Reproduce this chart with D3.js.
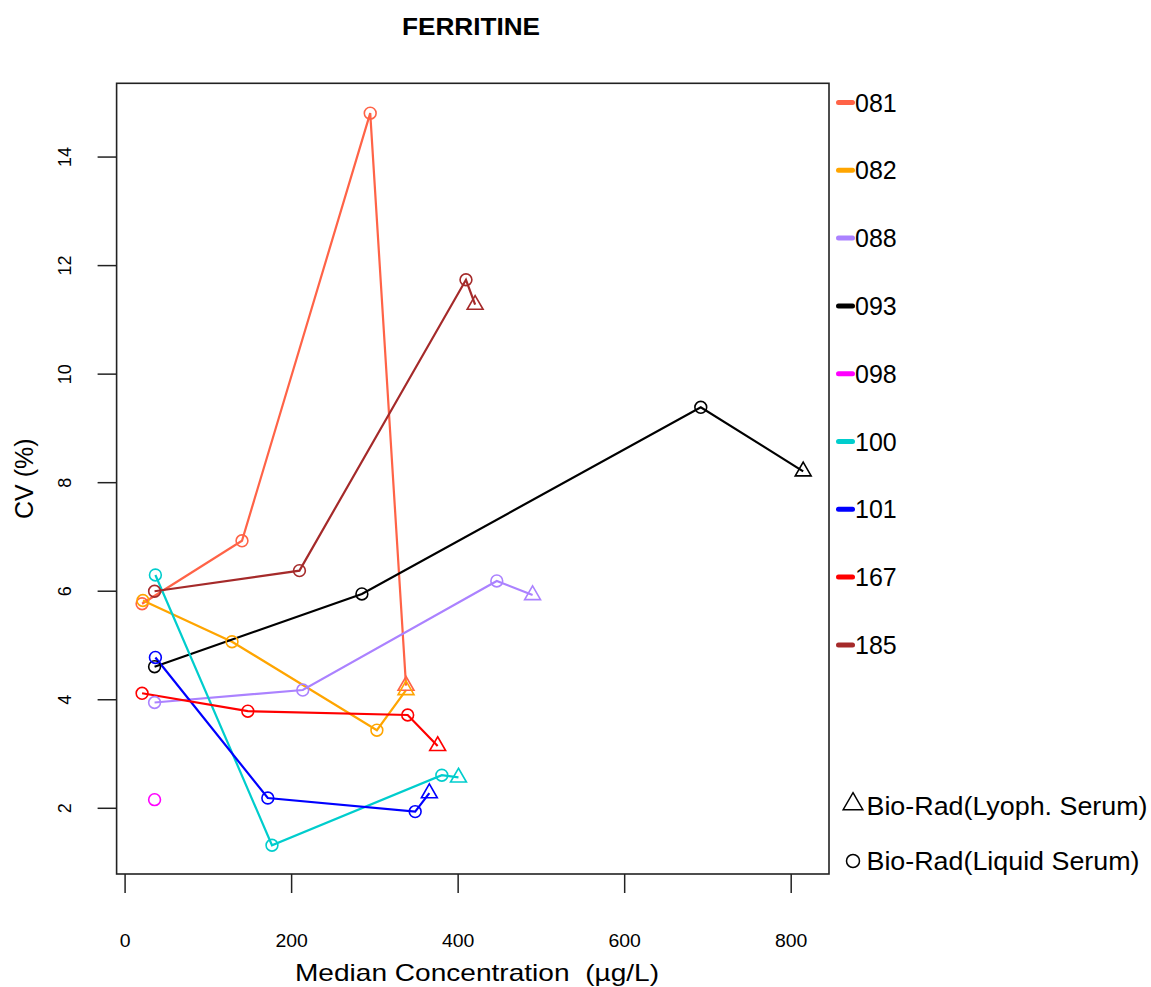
<!DOCTYPE html>
<html>
<head>
<meta charset="utf-8">
<script src="https://cdn.jsdelivr.net/npm/d3@7"></script>
<style>
  html, body { margin: 0; padding: 0; background: #fff; }
  svg text { font-family: "Liberation Sans", Arial, Helvetica, sans-serif; fill: #000; white-space: pre; }
</style>
</head>
<body>
<svg id="chart" width="1151" height="987"></svg>
<script>
// ---------------- data ----------------
const chartTitle = "FERRITINE";
const xTitle = "Median Concentration  (\u00b5g/L)";
const yTitle = "CV (%)";

const labs   = ["081", "082", "088", "093", "098", "100", "101", "167", "185"];
const colors = ["#FF6347", "#FFA500", "#AB82FF", "#000000", "#FF00FF", "#00CDCD", "#0000FF", "#FF0000", "#A52A2A"];

// median concentration (µg/L) per lab, in sample order
const conc081 = [21, 141, 295, 338];
const conc082 = [22, 129, 303, 338];
const conc088 = [36, 214, 447, 490];
const conc093 = [36, 285, 692, 815];
const conc098 = [36];
const conc100 = [37, 177, 381, 401];
const conc101 = [37, 172, 349, 366];
const conc167 = [21, 148, 340, 376];
const conc185 = [36, 210, 410, 421];

// CV (%) per lab
const cv081 = [5.76, 6.92, 14.80, 4.25];
const cv082 = [5.82, 5.06, 3.43, 4.17];
const cv088 = [3.94, 4.17, 6.18, 5.92];
const cv093 = [4.60, 5.94, 9.38, 8.20];
const cv098 = [2.15];
const cv100 = [6.29, 1.31, 2.60, 2.56];
const cv101 = [4.77, 2.18, 1.93, 2.27];
const cv167 = [4.11, 3.78, 3.71, 3.14];
const cv185 = [5.99, 6.37, 11.73, 11.27];

// sample material per point: L = Bio-Rad Liquid Serum (circle), Y = Bio-Rad Lyoph. Serum (triangle)
const mat081 = ["L", "L", "L", "Y"];
const mat082 = ["L", "L", "L", "Y"];
const mat088 = ["L", "L", "L", "Y"];
const mat093 = ["L", "L", "L", "Y"];
const mat098 = ["L"];
const mat100 = ["L", "L", "L", "Y"];
const mat101 = ["L", "L", "L", "Y"];
const mat167 = ["L", "L", "L", "Y"];
const mat185 = ["L", "L", "L", "Y"];

const xTicks = [0, 200, 400, 600, 800];
const yTicks = [2, 4, 6, 8, 10, 12, 14];

const materialLabels = ["Bio-Rad(Lyoph. Serum)", "Bio-Rad(Liquid Serum)"];

// ---------------- build series ----------------
const concs = [conc081, conc082, conc088, conc093, conc098, conc100, conc101, conc167, conc185];
const cvs   = [cv081, cv082, cv088, cv093, cv098, cv100, cv101, cv167, cv185];
const mats  = [mat081, mat082, mat088, mat093, mat098, mat100, mat101, mat167, mat185];
const series = labs.map((lab, i) => ({
  lab, color: colors[i],
  points: concs[i].map((c, j) => ({ x: c, y: cvs[i][j], m: mats[i][j] }))
}));

// ---------------- layout ----------------
const svg = d3.select("#chart");
const plot = { left: 116.6, right: 829, top: 83.3, bottom: 874 };

const x = d3.scaleLinear().domain([-9.6, 846]).range([plot.left, plot.right]);
const y = d3.scaleLinear().domain([0.78, 15.35]).range([plot.bottom, plot.top]);

// title
svg.append("text")
  .attr("x", 471).attr("y", 35)
  .attr("text-anchor", "middle")
  .attr("textLength", 138).attr("lengthAdjust", "spacingAndGlyphs")
  .style("font-size", "23px").style("font-weight", "bold")
  .text(chartTitle);

// axes
const xAxis = d3.axisBottom(x).tickValues(xTicks).tickSize(19).tickPadding(0);
const gx = svg.append("g").attr("transform", `translate(0,${plot.bottom})`).call(xAxis);
gx.select(".domain").remove();
gx.selectAll(".tick line").attr("stroke", "#222").attr("stroke-width", 1.5);
gx.selectAll(".tick text").attr("y", 73).attr("dy", 0)
  .style("font-size", "18px").style("font-family", "'Liberation Sans', Arial, sans-serif")
  .attr("transform", "scale(1.08,1)")
  .attr("x", function(d) { return 0; });
// keep scaled labels centred on their ticks
gx.selectAll(".tick text").attr("transform", null)
  .style("transform-box", "fill-box").style("transform-origin", "center")
  .style("transform", "scaleX(1.08)");

const yAxis = d3.axisLeft(y).tickValues(yTicks).tickSize(19).tickPadding(0);
const gy = svg.append("g").attr("transform", `translate(${plot.left},0)`).call(yAxis);
gy.select(".domain").remove();
gy.selectAll(".tick line").attr("stroke", "#222").attr("stroke-width", 1.5);
gy.selectAll(".tick text")
  .attr("x", null).attr("dy", null)
  .attr("text-anchor", "middle")
  .attr("transform", "translate(-46,0) rotate(-90)")
  .attr("y", 0)
  .style("font-size", "18px").style("font-family", "'Liberation Sans', Arial, sans-serif");

// axis titles
svg.append("text")
  .attr("x", 477).attr("y", 981)
  .attr("text-anchor", "middle")
  .attr("textLength", 364).attr("lengthAdjust", "spacingAndGlyphs")
  .style("font-size", "24px")
  .text(xTitle);
svg.append("text")
  .attr("transform", `translate(33,${(plot.top + plot.bottom) / 2}) rotate(-90)`)
  .attr("text-anchor", "middle")
  .style("font-size", "25px")
  .text(yTitle);

// frame
svg.append("rect")
  .attr("x", plot.left).attr("y", plot.top)
  .attr("width", plot.right - plot.left).attr("height", plot.bottom - plot.top)
  .attr("fill", "none").attr("stroke", "#222").attr("stroke-width", 1.6);

// lines
const line = d3.line().x(d => x(d.x)).y(d => y(d.y));
const gSeries = svg.append("g");
series.forEach(s => {
  if (s.points.length > 1) {
    gSeries.append("path").datum(s.points)
      .attr("d", line).attr("fill", "none")
      .attr("stroke", s.color).attr("stroke-width", 2.2);
  }
});

// markers
const R = 5.9;
function triPath(cx, cy, r0) {
  const rt = 1.5551 * r0, hw = 1.3468 * r0, yb = 0.7776 * r0;
  return `M${cx},${cy - rt}L${cx + hw},${cy + yb}L${cx - hw},${cy + yb}Z`;
}
series.forEach(s => {
  s.points.forEach(p => {
    if (p.m === "L") {
      gSeries.append("circle").attr("cx", x(p.x)).attr("cy", y(p.y)).attr("r", R)
        .attr("fill", "none").attr("stroke", s.color).attr("stroke-width", 1.6);
    } else {
      gSeries.append("path").attr("d", triPath(x(p.x), y(p.y), R))
        .attr("fill", "none").attr("stroke", s.color).attr("stroke-width", 1.6);
    }
  });
});

// legend (labs)
const legX = 836, legStep = 67.8, legY0 = 102.5;
const gLeg = svg.append("g");
labs.forEach((lab, i) => {
  const yy = legY0 + i * legStep;
  gLeg.append("line").attr("x1", legX + 2.5).attr("x2", legX + 16.5)
    .attr("y1", yy).attr("y2", yy)
    .attr("stroke", colors[i]).attr("stroke-width", 5).attr("stroke-linecap", "round");
  gLeg.append("text").attr("x", legX + 19).attr("y", yy + 9)
    .style("font-size", "25px").text(lab);
});

// legend (materials)
gLeg.append("path").attr("d", triPath(853, 804, 7.3))
  .attr("fill", "none").attr("stroke", "#000").attr("stroke-width", 1.5);
gLeg.append("text").attr("x", 866.5).attr("y", 815)
  .attr("textLength", 281).attr("lengthAdjust", "spacingAndGlyphs")
  .style("font-size", "25px").text(materialLabels[0]);
gLeg.append("circle").attr("cx", 853).attr("cy", 861).attr("r", 6.5)
  .attr("fill", "none").attr("stroke", "#000").attr("stroke-width", 1.5);
gLeg.append("text").attr("x", 866.5).attr("y", 870)
  .attr("textLength", 273).attr("lengthAdjust", "spacingAndGlyphs")
  .style("font-size", "25px").text(materialLabels[1]);
</script>
</body>
</html>
